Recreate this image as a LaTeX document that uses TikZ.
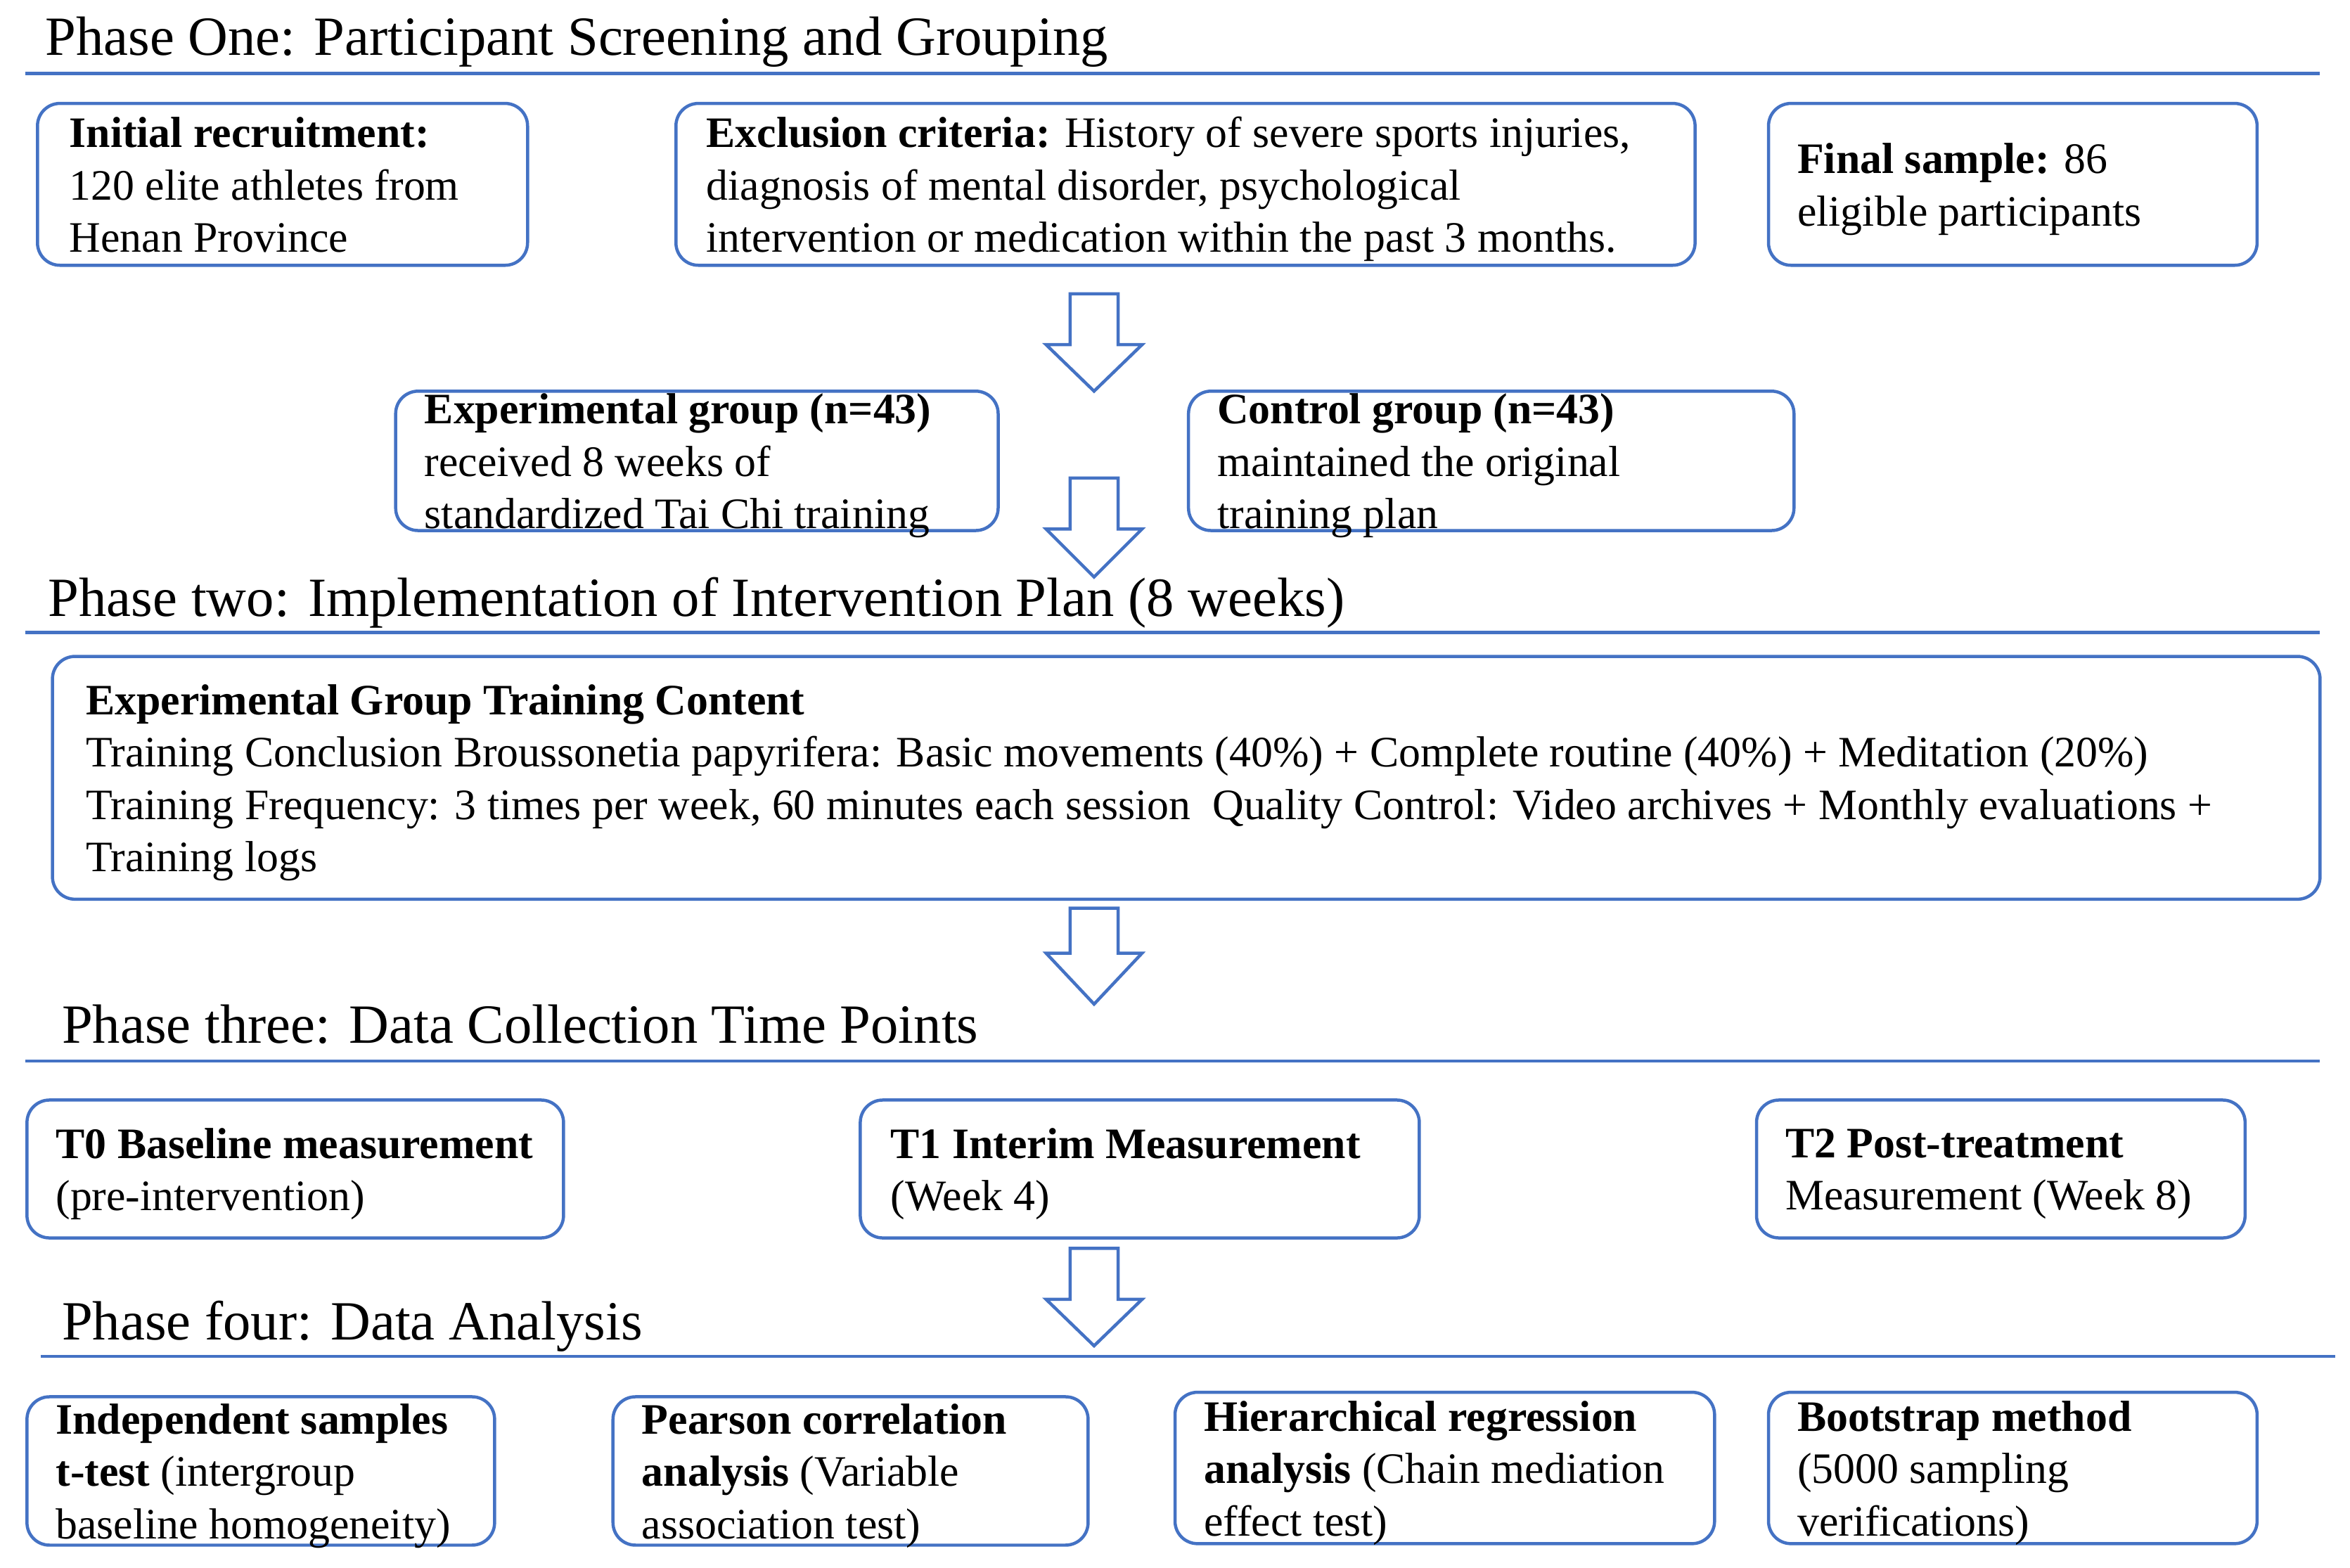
\documentclass[tikz,border=0pt]{standalone}
\usepackage{fontspec}
\setmainfont{Liberation Serif}
\definecolor{bl}{HTML}{4472C4}
\newcommand\mkbox[5]{\node[box, minimum width={(#4-#2)*0.02cm}, minimum height={(#5-#3)*0.02cm}] (#1) at ({(#2+#4)/2},{(#3+#5)/2}) {};}
\newcommand\darrow[4]{\draw[harrow] ({#1-16},#2) -- ({#1+16},#2) -- ({#1+16},#3) -- ({#1+32},#3) -- (#1,#4) -- ({#1-32},#3) -- ({#1-16},#3) -- cycle;}
\begin{document}
\begin{tikzpicture}[x=0.02cm,y=-0.02cm,
  box/.style={draw=bl, line width=1.2pt, rounded corners=0.3cm, inner sep=0pt},
  txt/.style={align=left, inner sep=0pt, font=\fontsize{16.5}{19.9}\selectfont, anchor=west, yshift=-0.11cm,
    execute at begin node={\strut}, execute at end node={\strut}},
  head/.style={font=\fontsize{21}{25}\selectfont, anchor=base west, inner sep=0pt},
  rule/.style={draw=bl, line width=1.2pt},
  harrow/.style={draw=bl, line width=1.2pt, fill=white, line join=miter}]
\fill[white] (0,0) rectangle (1568,1046);
\useasboundingbox (0,0) rectangle (1568,1046);

% ---------- Phase one ----------
\node[head] (h1) at (30,37) {Phase One: Participant Screening and Grouping};
\draw[rule] (17,49) -- (1548,49);

\mkbox{A}{25}{69}{352}{177}
\node[txt] (At) at ([xshift=0.44cm]A.west) {\textbf{Initial recruitment:}\\120 elite athletes from\\Henan Province};
\mkbox{B}{451}{69}{1131}{177}
\node[txt] (Bt) at ([xshift=0.42cm]B.west) {\textbf{Exclusion criteria:} History of severe sports injuries,\\diagnosis of mental disorder, psychological\\intervention or medication within the past 3 months.};
\mkbox{C}{1180}{69}{1506}{177}
\node[txt] (Ct) at ([xshift=0.40cm]C.west) {\textbf{Final sample:} 86\\eligible participants};

\darrow{730}{196}{230}{261}

\mkbox{D}{264}{261}{666}{354}
\node[txt] (Dt) at ([xshift=0.40cm]D.west) {\textbf{Experimental group (n=43)}\\received 8 weeks of\\standardized Tai Chi training};
\mkbox{E}{793}{261}{1197}{354}
\node[txt] (Et) at ([xshift=0.40cm]E.west) {\textbf{Control group (n=43)}\\maintained the original\\training plan};

\darrow{730}{319}{353}{385}

% ---------- Phase two ----------
\node[head] (h2) at (32,411) {Phase two: Implementation of Intervention Plan (8 weeks)};
\draw[rule] (17,422) -- (1548,422);

\mkbox{F}{35}{438}{1548}{600}
\node[txt] (Ft) at ([xshift=0.46cm]F.west) {\textbf{Experimental Group Training Content}\\Training Conclusion Broussonetia papyrifera: Basic movements (40\%) + Complete routine (40\%) + Meditation (20\%)\\Training Frequency: 3 times per week, 60 minutes each session\ \ Quality Control: Video archives + Monthly evaluations +\\Training logs};

\darrow{730}{606}{636}{670}

% ---------- Phase three ----------
\node[head] (h3) at (41,696) {Phase three: Data Collection Time Points};
\draw[rule] (17,708) -- (1548,708);

\mkbox{T0}{18}{734}{376}{826}
\node[txt] (T0t) at ([xshift=0.40cm]T0.west) {\textbf{T0 Baseline measurement}\\(pre-intervention)};
\mkbox{T1}{574}{734}{947}{826}
\node[txt] (T1t) at ([xshift=0.42cm]T1.west) {\textbf{T1 Interim Measurement}\\(Week 4)};
\mkbox{T2}{1172}{734}{1498}{826}
\node[txt] (T2t) at ([xshift=0.40cm]T2.west) {\textbf{T2 Post-treatment}\\Measurement (Week 8)};

\darrow{730}{833}{867}{898}

% ---------- Phase four ----------
\node[head] (h4) at (41,894) {Phase four: Data Analysis};
\draw[rule] (27,905) -- (1558,905);

\mkbox{R1}{18}{932}{330}{1031}
\node[txt] (R1t) at ([xshift=0.40cm]R1.west) {\textbf{Independent samples}\\\textbf{t-test} (intergroup\\baseline homogeneity)};
\mkbox{R2}{409}{932}{726}{1031}
\node[txt] (R2t) at ([xshift=0.40cm]R2.west) {\textbf{Pearson correlation}\\\textbf{analysis} (Variable\\association test)};
\mkbox{R3}{784}{929}{1144}{1030}
\node[txt] (R3t) at ([xshift=0.40cm]R3.west) {\textbf{Hierarchical regression}\\\textbf{analysis} (Chain mediation\\effect test)};
\mkbox{R4}{1180}{929}{1506}{1030}
\node[txt] (R4t) at ([xshift=0.40cm]R4.west) {\textbf{Bootstrap method}\\(5000 sampling\\verifications)};
\end{tikzpicture}
\end{document}
